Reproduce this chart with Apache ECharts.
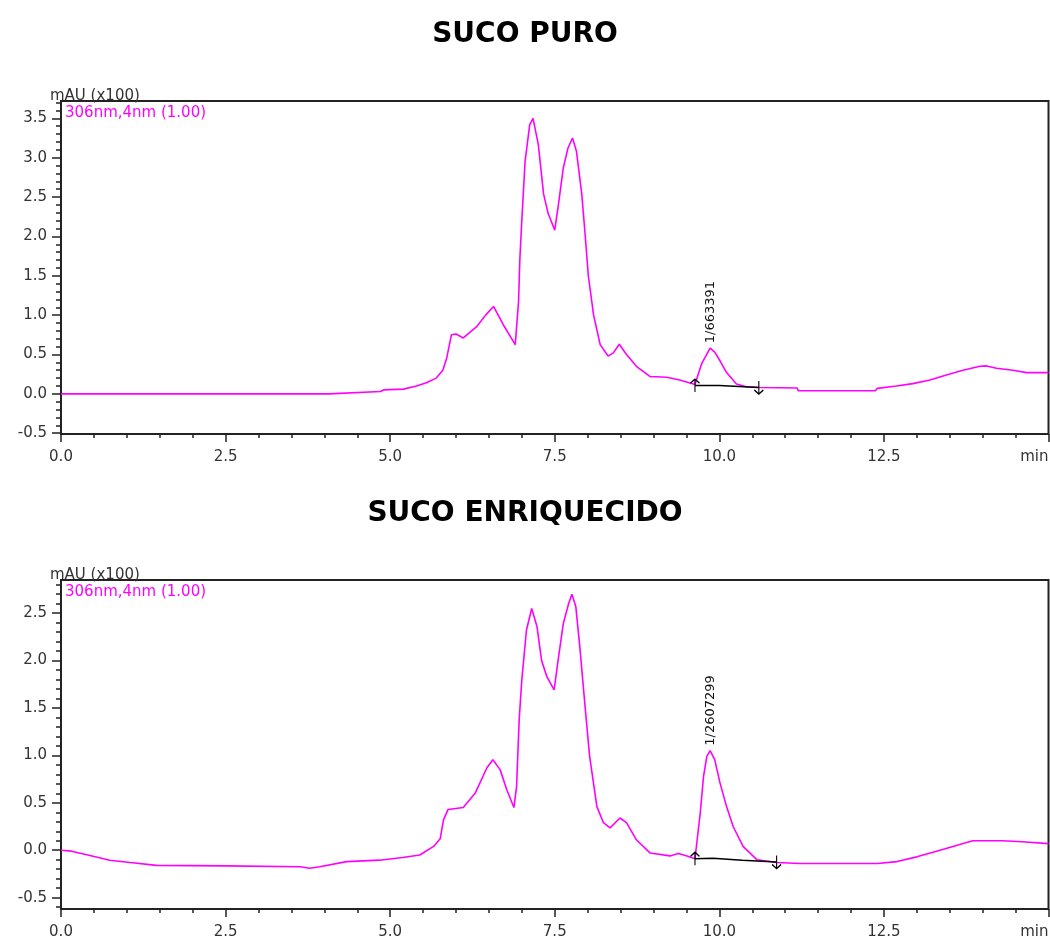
<!DOCTYPE html>
<html>
<head>
<meta charset="utf-8">
<script src="https://cdn.jsdelivr.net/npm/echarts@6.0.0/dist/echarts.min.js"></script>
<style>
html,body{margin:0;padding:0;background:#fff;}
#chart{width:1050px;height:938px;}
</style>
</head>
<body>
<div id="chart"></div>
<script>
// ---- Data ----
const titles = ['SUCO PURO', 'SUCO ENRIQUECIDO'];
const yUnitLabel = 'mAU (x100)';
const channelLabel = '306nm,4nm (1.00)';
const xTickLabels = [0, 2.5, 5, 7.5, 10, 12.5, 15];
const yTopTicks = [-0.5, 0, 0.5, 1.0, 1.5, 2.0, 2.5, 3.0, 3.5];
const yBotTicks = [-0.5, 0, 0.5, 1.0, 1.5, 2.0, 2.5];

// [time (min), absorbance (mAU x100)]
const pureSignal = [
  [0,0],[4.07,0],[4.1,0.02],[4.85,0.03],[4.9,0.05],[5.2,0.06],[5.4,0.1],[5.55,0.14],[5.7,0.2],[5.8,0.3],
  [5.86,0.46],[5.93,0.75],[6.0,0.76],[6.11,0.71],[6.31,0.85],[6.45,1.0],[6.57,1.11],[6.72,0.875],[6.9,0.625],
  [6.95,1.17],[6.97,1.71],[7.0,2.21],[7.05,2.96],[7.12,3.42],[7.17,3.5],[7.25,3.17],[7.33,2.54],[7.4,2.29],
  [7.5,2.08],[7.55,2.37],[7.63,2.87],[7.7,3.12],[7.77,3.25],[7.83,3.08],[7.91,2.54],[7.96,2.04],[8.01,1.5],
  [8.09,1.0],[8.19,0.625],[8.31,0.48],[8.39,0.52],[8.48,0.63],[8.59,0.5],[8.74,0.35],[8.95,0.22],[9.2,0.21],
  [9.4,0.175],[9.63,0.12],[9.73,0.38],[9.86,0.58],[9.93,0.53],[10.01,0.42],[10.11,0.27],[10.26,0.125],
  [10.41,0.09],[10.62,0.08],[11.18,0.075],[11.2,0.04],[12.37,0.04],[12.4,0.07],[12.69,0.1],[12.94,0.13],
  [13.2,0.175],[13.45,0.24],[13.7,0.3],[13.96,0.35],[14.06,0.355],[14.21,0.325],[14.46,0.3],[14.67,0.27],[15,0.27]
];
const enrichedSignal = [
  [0,0],[0.16,-0.01],[0.44,-0.056],[0.74,-0.105],[1.05,-0.13],[1.45,-0.16],[2.5,-0.165],[3.63,-0.175],
  [3.78,-0.19],[3.93,-0.175],[4.34,-0.12],[4.84,-0.105],[5.19,-0.077],[5.45,-0.05],[5.66,0.04],[5.76,0.12],
  [5.81,0.32],[5.88,0.43],[6.11,0.45],[6.29,0.6],[6.47,0.87],[6.56,0.955],[6.67,0.85],[6.77,0.64],[6.88,0.45],
  [6.92,0.67],[6.96,1.38],[7.0,1.8],[7.07,2.32],[7.15,2.55],[7.23,2.36],[7.3,2.0],[7.38,1.83],[7.49,1.69],
  [7.55,2.0],[7.63,2.39],[7.71,2.6],[7.76,2.7],[7.82,2.57],[7.88,2.15],[7.96,1.52],[8.03,0.99],[8.14,0.46],
  [8.24,0.29],[8.34,0.235],[8.49,0.34],[8.59,0.29],[8.74,0.11],[8.95,-0.03],[9.25,-0.06],[9.38,-0.035],
  [9.51,-0.06],[9.63,-0.09],[9.71,0.39],[9.76,0.78],[9.81,0.99],[9.86,1.05],[9.93,0.955],[10.01,0.71],
  [10.11,0.46],[10.21,0.25],[10.36,0.04],[10.57,-0.1],[10.88,-0.13],[11.22,-0.14],[12.4,-0.14],[12.7,-0.12],
  [13.0,-0.07],[13.3,-0.01],[13.6,0.05],[13.85,0.1],[14.3,0.1],[14.6,0.09],[15,0.07]
];
// integration baselines
const pureBaseline = [[9.63,0.105],[10.0,0.105],[10.03,0.085],[10.6,0.08]];
const enrichedBaseline = [[9.63,-0.09],[9.9,-0.085],[9.93,-0.1],[10.35,-0.105],[10.38,-0.12],[10.87,-0.125]];
// peak annotations
const purePeak = { coord: [9.87, 0.58], text: '1/663391' };
const enrichedPeak = { coord: [9.87, 1.05], text: '1/2607299' };

// ---- Build ----
const FONT = 'DejaVu Sans';
const MAG = '#ff00ff';
function range(a, b, step) { const r = []; for (let v = a; v <= b + 1e-9; v += step) r.push(Math.round(v * 100) / 100); return r; }

const grids = [
  { left: 61, right: 1.5, top: 101, height: 333 },
  { left: 61, right: 1.5, top: 580, height: 329 }
];
const yExt = [[-0.51, 3.72], [-0.62, 2.85]];
const yLabs = [yTopTicks, yBotTicks];

const xAxis = [], yAxis = [];
grids.forEach((g, i) => {
  xAxis.push({
    type: 'value', gridIndex: i, min: 0, max: 15, interval: 2.5, position: 'bottom',
    axisLine: { show: false, onZero: false }, splitLine: { show: false },
    axisTick: { show: true, length: 8, lineStyle: { color: '#222', width: 1.5 } },
    minorTick: { show: true, splitNumber: 5, length: 4, lineStyle: { color: '#222', width: 1.5 } },
    axisLabel: {
      customValues: xTickLabels, margin: 16, color: '#333', fontFamily: FONT, fontSize: 15,
      alignMaxLabel: 'right',
      formatter: v => (v === 15 ? 'min' : v.toFixed(1))
    }
  });
  yAxis.push({
    type: 'value', gridIndex: i, min: yExt[i][0], max: yExt[i][1],
    axisLine: { show: false, onZero: false }, splitLine: { show: false },
    axisTick: { show: true, customValues: yLabs[i], length: 9, lineStyle: { color: '#222', width: 1.5 } },
    axisLabel: { customValues: yLabs[i], margin: 14, color: '#333', fontFamily: FONT, fontSize: 15,
      formatter: v => v.toFixed(1) }
  });
  yAxis.push({
    type: 'value', gridIndex: i, min: yExt[i][0], max: yExt[i][1], position: 'left',
    axisLine: { show: false, onZero: false }, splitLine: { show: false }, axisLabel: { show: false },
    axisTick: { show: true, customValues: range(Math.ceil(yExt[i][0] * 10) / 10, yExt[i][1], 0.1), length: 5,
      lineStyle: { color: '#222', width: 1.5 } }
  });
});

const upArrow = 'path://M6,0 L6,16 M2,5 L6,0 L10,5';
const downArrow = 'path://M6,0 L6,16 M2,11 L6,16 L10,11';

function baselineSeries(data, gi) {
  return {
    type: 'line', xAxisIndex: gi, yAxisIndex: gi * 2, z: 5,
    lineStyle: { color: '#000', width: 1.5 }, showSymbol: true,
    itemStyle: { color: 'transparent', borderColor: '#000', borderWidth: 1.3 },
    data: data.map((p, k) => ({
      value: p,
      symbol: k === 0 ? upArrow : (k === data.length - 1 ? downArrow : 'none'),
      symbolSize: [9, 13]
    })),
    silent: true
  };
}

function signalSeries(data, gi, peak) {
  return {
    type: 'line', xAxisIndex: gi, yAxisIndex: gi * 2, showSymbol: false, z: 3,
    lineStyle: { color: MAG, width: 1.6 }, data: data,
    markPoint: {
      symbol: 'circle', symbolSize: 0, silent: true,
      data: [{ coord: peak.coord, value: peak.text }],
      label: { show: true, position: 'top', distance: 5, rotate: 90, align: 'left', verticalAlign: 'middle',
        formatter: peak.text, color: '#111', fontFamily: FONT, fontSize: 13 }
    }
  };
}

const titleList = [
  { text: titles[0], left: 'center', top: 16, textStyle: { fontFamily: FONT, fontWeight: 'bold', fontSize: 28, color: '#000' } },
  { text: titles[1], left: 'center', top: 495, textStyle: { fontFamily: FONT, fontWeight: 'bold', fontSize: 28, color: '#000' } },
  { text: yUnitLabel, left: 45, top: 84, textStyle: { fontFamily: FONT, fontWeight: 'normal', fontSize: 15, color: '#333' } },
  { text: channelLabel, left: 60, top: 101, textStyle: { fontFamily: FONT, fontWeight: 'normal', fontSize: 15, color: MAG } },
  { text: yUnitLabel, left: 45, top: 563, textStyle: { fontFamily: FONT, fontWeight: 'normal', fontSize: 15, color: '#333' } },
  { text: channelLabel, left: 60, top: 580, textStyle: { fontFamily: FONT, fontWeight: 'normal', fontSize: 15, color: MAG } }
];

const chart = echarts.init(document.getElementById('chart'), null, { renderer: 'canvas' });
chart.setOption({
  animation: false,
  backgroundColor: '#fff',
  title: titleList,
  grid: grids.map(g => Object.assign({ show: true, borderColor: '#222', borderWidth: 2, backgroundColor: 'transparent',
    containLabel: false, outerBoundsMode: 'none' }, g)),
  xAxis: xAxis,
  yAxis: yAxis,
  series: [
    signalSeries(pureSignal, 0, purePeak),
    baselineSeries(pureBaseline, 0),
    signalSeries(enrichedSignal, 1, enrichedPeak),
    baselineSeries(enrichedBaseline, 1)
  ]
});
</script>
</body>
</html>
